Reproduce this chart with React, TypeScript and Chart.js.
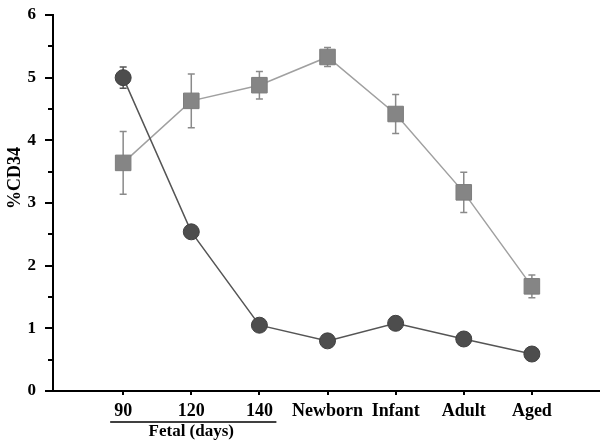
import React, { useEffect, useRef } from "react";
import { Chart, registerables } from "chart.js";

Chart.register(...registerables);

const categories = ["90", "120", "140", "Newborn", "Infant", "Adult", "Aged"];
const circleValues = [5.0, 2.54, 1.05, 0.8, 1.08, 0.83, 0.59];
const circleErrors = [0.17, 0, 0, 0, 0, 0, 0];
const squareValues = [3.64, 4.63, 4.88, 5.33, 4.42, 3.17, 1.67];
const squareErrors = [0.5, 0.43, 0.22, 0.15, 0.31, 0.32, 0.18];
const yTicks = [0, 1, 2, 3, 4, 5, 6];
const fetalGroup = { label: "Fetal (days)", from: 0, to: 2 };
const yTitle = "%CD34";

const X_MIN = -1.03;
const X_MAX = 7;
const FONT = "'Liberation Serif', 'Times New Roman', serif";

const decorPlugin = {
  id: "decor",
  beforeDatasetsDraw(chart: any) {
    const ctx = chart.ctx;
    const xs = chart.scales.x;
    const ys = chart.scales.y;
    ctx.save();
    ctx.strokeStyle = "#8a8a8a";
    ctx.lineWidth = 1.5;
    const drawErr = (vals: number[], errs: number[]) => {
      vals.forEach((v, i) => {
        const e = errs[i];
        if (!e) return;
        const x = xs.getPixelForValue(i);
        const y1 = ys.getPixelForValue(v + e);
        const y2 = ys.getPixelForValue(v - e);
        ctx.beginPath();
        ctx.moveTo(x, y1);
        ctx.lineTo(x, y2);
        ctx.moveTo(x - 3.5, y1);
        ctx.lineTo(x + 3.5, y1);
        ctx.moveTo(x - 3.5, y2);
        ctx.lineTo(x + 3.5, y2);
        ctx.stroke();
      });
    };
    drawErr(squareValues, squareErrors);
    ctx.strokeStyle = "#555";
    drawErr(circleValues, circleErrors);
    ctx.restore();
  },
  afterDraw(chart: any) {
    const ctx = chart.ctx;
    const xs = chart.scales.x;
    const ys = chart.scales.y;
    const left = chart.chartArea.left;
    const bottom = chart.chartArea.bottom;
    ctx.save();
    ctx.strokeStyle = "#000";
    ctx.lineWidth = 2;
    // y ticks: major and minor
    for (let k = 0; k <= 12; k++) {
      const v = k / 2;
      const y = Math.round(ys.getPixelForValue(v));
      const len = k % 2 === 0 ? 8 : 5;
      ctx.beginPath();
      ctx.moveTo(left - len, y);
      ctx.lineTo(left, y);
      ctx.stroke();
    }
    // x ticks
    categories.forEach((_, i) => {
      const x = Math.round(xs.getPixelForValue(i));
      ctx.beginPath();
      ctx.moveTo(x, bottom);
      ctx.lineTo(x, bottom + 4);
      ctx.stroke();
    });
    // fetal group line and label
    const x1 = xs.getPixelForValue(fetalGroup.from) - 13;
    const x2 = xs.getPixelForValue(fetalGroup.to) + 17;
    ctx.lineWidth = 1.5;
    ctx.beginPath();
    ctx.moveTo(x1, bottom + 31);
    ctx.lineTo(x2, bottom + 31);
    ctx.stroke();
    ctx.fillStyle = "#000";
    ctx.font = `bold 17px ${FONT}`;
    ctx.textAlign = "center";
    ctx.textBaseline = "middle";
    ctx.fillText(fetalGroup.label, (xs.getPixelForValue(fetalGroup.from) + xs.getPixelForValue(fetalGroup.to)) / 2, bottom + 41);
    // y title
    ctx.translate(15, ys.getPixelForValue(3.4));
    ctx.rotate(-Math.PI / 2);
    ctx.font = `bold 18px ${FONT}`;
    ctx.fillText(yTitle, 0, 0);
    ctx.restore();
  },
};

export default function App() {
  const ref = useRef<HTMLCanvasElement | null>(null);
  useEffect(() => {
    document.body.style.margin = "0";
    document.body.style.overflow = "hidden";
    const canvas = ref.current!;
    const chart = new Chart(canvas, {
      type: "line",
      data: {
        datasets: [
          {
            label: "circle",
            data: circleValues.map((v, i) => ({ x: i, y: v })),
            borderColor: "#555",
            borderWidth: 1.5,
            pointStyle: "circle",
            pointRadius: 8,
            pointBackgroundColor: "#4d4d4d",
            pointBorderColor: "#404040",
            pointBorderWidth: 1,
            tension: 0,
          },
          {
            label: "square",
            data: squareValues.map((v, i) => ({ x: i, y: v })),
            borderColor: "#a0a0a0",
            borderWidth: 1.5,
            pointStyle: "rect",
            pointRadius: 11,
            pointBackgroundColor: "#858585",
            pointBorderColor: "#7d7d7d",
            pointBorderWidth: 1,
            tension: 0,
          },
        ],
      },
      options: {
        animation: false,
        responsive: false,
        layout: { autoPadding: false, padding: { top: 15, right: 0, left: 0, bottom: 0 } },
        plugins: { legend: { display: false }, tooltip: { enabled: false } },
        scales: {
          x: {
            type: "linear",
            min: X_MIN,
            max: X_MAX,
            grid: { display: false, drawTicks: false },
            border: { display: true, color: "#000", width: 2 },
            afterFit: (s: any) => {
              s.height = 53;
              s.paddingLeft = 0;
              s.paddingRight = 0;
            },
            afterBuildTicks: (s: any) => {
              s.ticks = [X_MIN, ...categories.map((_, i) => i), X_MAX].map((v) => ({ value: v }));
            },
            ticks: {
              autoSkip: false,
              maxRotation: 0,
              padding: 10,
              color: "#000",
              font: { family: FONT, size: 18, weight: "bold" },
              callback: (v: any) => (Number.isInteger(v) ? categories[v as number] ?? "" : ""),
            },
          },
          y: {
            type: "linear",
            min: 0,
            max: 6,
            grid: { display: false, drawTicks: false },
            border: { display: true, color: "#000", width: 2 },
            afterFit: (s: any) => {
              s.width = 53;
              s.paddingTop = 0;
              s.paddingBottom = 0;
            },
            afterBuildTicks: (s: any) => {
              s.ticks = yTicks.map((v) => ({ value: v }));
            },
            ticks: {
              padding: 17,
              color: "#000",
              font: { family: FONT, size: 17, weight: "bold" },
            },
          },
        },
      },
      plugins: [decorPlugin],
    } as any);
    return () => chart.destroy();
  }, []);
  return (
    <div style={{ position: "absolute", left: 0, top: 0, width: 600, height: 444, overflow: "hidden", background: "#fff" }}>
      <canvas ref={ref} width={600} height={444} style={{ display: "block", width: 600, height: 444 }} />
    </div>
  );
}
